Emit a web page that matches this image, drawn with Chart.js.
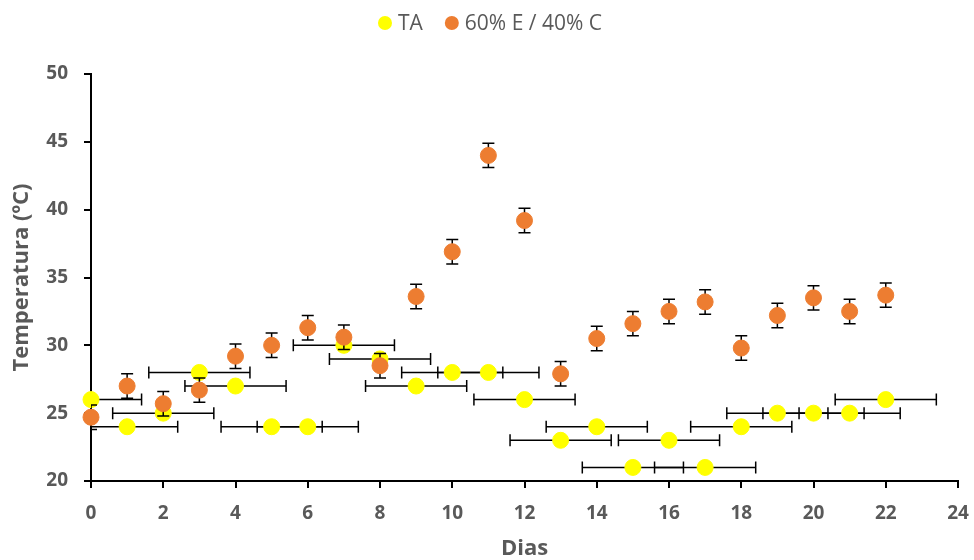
<!DOCTYPE html>
<html>
<head>
<meta charset="utf-8">
<script src="https://cdn.jsdelivr.net/npm/chart.js@4/dist/chart.umd.min.js"></script>
<style>
  html, body { margin: 0; padding: 0; background: #fff; }
  #wrap { width: 974px; height: 560px; position: relative; }
</style>
</head>
<body>
<div id="wrap"><canvas id="c" width="974" height="560"></canvas></div>
<script>
// Daily temperatures (ºC)
const days = [0, 1, 2, 3, 4, 5, 6, 7, 8, 9, 10, 11, 12, 13, 14, 15, 16, 17, 18, 19, 20, 21, 22];
const taValues = [26, 24, 25, 28, 27, 24, 24, 30, 29, 27, 28, 28, 26, 23, 24, 21, 23, 21, 24, 25, 25, 25, 26];
const taErrDays = [1.4, 1.4, 1.4, 1.4, 1.4, 1.4, 1.4, 1.4, 1.4, 1.4, 1.4, 1.4, 1.4, 1.4, 1.4, 1.4, 1.4, 1.4, 1.4, 1.4, 1.4, 1.4, 1.4];
const mixValues = [24.7, 27.0, 25.7, 26.7, 29.2, 30.0, 31.3, 30.6, 28.5, 33.6, 36.9, 44.0, 39.2, 27.9, 30.5, 31.6, 32.5, 33.2, 29.8, 32.2, 33.5, 32.5, 33.7];
const mixErrTemp = [0.9, 0.9, 0.9, 0.9, 0.9, 0.9, 0.9, 0.9, 0.9, 0.9, 0.9, 0.9, 0.9, 0.9, 0.9, 0.9, 0.9, 0.9, 0.9, 0.9, 0.9, 0.9, 0.9];
const seriesNames = ['TA', '60% E / 40% C'];
const xTicks = [0, 2, 4, 6, 8, 10, 12, 14, 16, 18, 20, 22, 24];
const yTicks = [20, 25, 30, 35, 40, 45, 50];

const YELLOW = '#FFFF00';
const ORANGE = '#ED7D31';
const GREY = '#595959';
const FONT = "'Open Sans', 'DejaVu Sans', sans-serif";

const toPoints = (vals) => days.map((d, i) => ({ x: d, y: vals[i] }));

// Error bars are drawn just before each dataset's markers, clipped to the plot area
const errorBars = {
  id: 'errorBars',
  beforeDatasetDraw(chart, args) {
    const ds = chart.data.datasets[args.index];
    const xs = chart.scales.x, ys = chart.scales.y;
    const area = chart.chartArea;
    const ctx = chart.ctx;
    const cap = 6;
    ctx.save();
    ctx.beginPath();
    ctx.rect(area.left, area.top, area.right - area.left, area.bottom - area.top);
    ctx.clip();
    ctx.strokeStyle = '#000';
    ctx.lineWidth = 1.5;
    ds.data.forEach((p, i) => {
      const px = xs.getPixelForValue(p.x);
      const py = ys.getPixelForValue(p.y);
      ctx.beginPath();
      if (ds.errX) {
        const x0 = xs.getPixelForValue(p.x - ds.errX[i]);
        const x1 = xs.getPixelForValue(p.x + ds.errX[i]);
        ctx.moveTo(x0, py); ctx.lineTo(x1, py);
        ctx.moveTo(x0, py - cap); ctx.lineTo(x0, py + cap);
        ctx.moveTo(x1, py - cap); ctx.lineTo(x1, py + cap);
      }
      if (ds.errY) {
        const y0 = ys.getPixelForValue(p.y - ds.errY[i]);
        const y1 = ys.getPixelForValue(p.y + ds.errY[i]);
        ctx.moveTo(px, y0); ctx.lineTo(px, y1);
        ctx.moveTo(px - cap, y0); ctx.lineTo(px + cap, y0);
        ctx.moveTo(px - cap, y1); ctx.lineTo(px + cap, y1);
      }
      ctx.stroke();
    });
    ctx.restore();
  }
};

// Legend row centred above the plot
const topLegend = {
  id: 'topLegend',
  afterDraw(chart) {
    const ctx = chart.ctx;
    const y = 23;
    const r = 7;
    const gapText = 6;
    const gapItem = 22;
    ctx.save();
    ctx.font = `21px ${FONT}`;
    ctx.textBaseline = 'middle';
    const items = chart.data.datasets.map(ds => ({ label: ds.label, color: ds.backgroundColor, w: ctx.measureText(ds.label).width }));
    const total = items.reduce((s, it) => s + 2 * r + gapText + it.w, 0) + gapItem * (items.length - 1);
    let x = 490 - total / 2;
    items.forEach(it => {
      ctx.fillStyle = it.color;
      ctx.beginPath();
      ctx.arc(x + r, y, r, 0, Math.PI * 2);
      ctx.fill();
      x += 2 * r + gapText;
      ctx.fillStyle = GREY;
      ctx.textAlign = 'left';
      ctx.fillText(it.label, x, y + 1);
      x += it.w + gapItem;
    });
    ctx.restore();
  }
};

new Chart(document.getElementById('c'), {
  type: 'scatter',
  data: {
    datasets: [
      {
        label: seriesNames[0],
        data: toPoints(taValues),
        errX: taErrDays,
        backgroundColor: YELLOW,
        borderColor: YELLOW,
        borderWidth: 1,
        pointRadius: 8,
        pointHoverRadius: 8,
        clip: false,
        order: 2
      },
      {
        label: seriesNames[1],
        data: toPoints(mixValues),
        errY: mixErrTemp,
        backgroundColor: ORANGE,
        borderColor: ORANGE,
        borderWidth: 1,
        pointRadius: 8,
        pointHoverRadius: 8,
        clip: false,
        order: 1
      }
    ]
  },
  options: {
    responsive: false,
    animation: false,
    events: [],
    layout: { padding: { top: 74, left: 0, right: 16, bottom: 0 } },
    plugins: {
      legend: { display: false },
      tooltip: { enabled: false }
    },
    scales: {
      x: {
        type: 'linear',
        min: 0,
        max: 24,
        afterFit(scale) { scale.height = 79; scale.paddingLeft = 0; scale.paddingRight = 0; },
        afterBuildTicks(scale) { scale.ticks = xTicks.map(v => ({ value: v })); },
        border: { display: true, color: '#000', width: 2 },
        grid: { drawOnChartArea: false, drawTicks: true, tickLength: 7, tickColor: '#000', lineWidth: 2 },
        ticks: { color: GREY, font: { family: FONT, size: 19, weight: 'bold' }, padding: 14, maxRotation: 0 },
        title: { display: true, text: 'Dias', color: GREY, font: { family: FONT, size: 22, weight: 'bold', lineHeight: 1 }, padding: { top: 0, bottom: 0 } }
      },
      y: {
        type: 'linear',
        min: 20,
        max: 50,
        afterFit(scale) { scale.width = 91; scale.paddingTop = 0; scale.paddingBottom = 0; },
        afterBuildTicks(scale) { scale.ticks = yTicks.map(v => ({ value: v })); },
        border: { display: true, color: '#000', width: 2 },
        grid: { drawOnChartArea: false, drawTicks: true, tickLength: 7, tickColor: '#000', lineWidth: 2 },
        ticks: { color: GREY, font: { family: FONT, size: 19, weight: 'bold' }, padding: 16 },
        title: { display: true, text: 'Temperatura (ºC)', color: GREY, font: { family: FONT, size: 22, weight: 'bold', lineHeight: 1 }, padding: { top: 11, bottom: 0 } }
      }
    }
  },
  plugins: [errorBars, topLegend]
});
</script>
</body>
</html>
